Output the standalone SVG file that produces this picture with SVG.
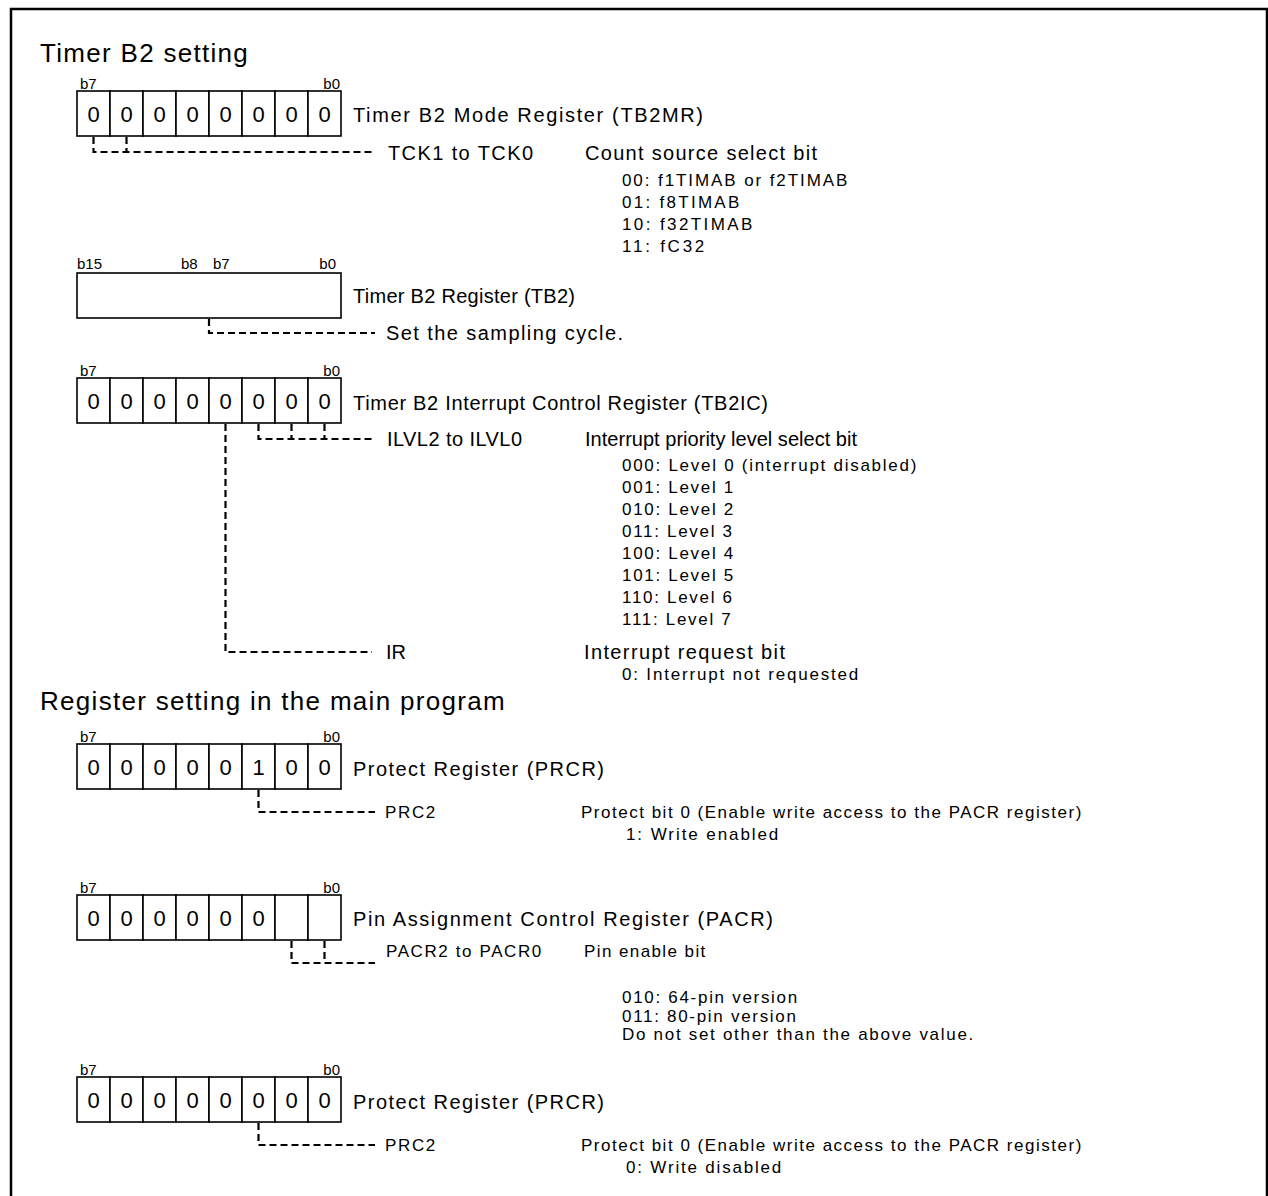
<svg xmlns="http://www.w3.org/2000/svg" width="1268" height="1196" viewBox="0 0 1268 1196">
<style>
text{font-family:"Liberation Sans",Arial,sans-serif;fill:#000}
.t{font-size:26px;letter-spacing:1.3px}
.m{font-size:20px}
.s{font-size:17px;letter-spacing:1.7px}
.b{font-size:15px}
.d{font-size:22px;text-anchor:middle}
.c{fill:#fff;stroke:#000;stroke-width:1.6}
.dash{fill:none;stroke:#000;stroke-width:2.2;stroke-dasharray:7 4}
</style>
<defs>
<g id="cells8">
<rect class="c" x="0" y="0" width="33" height="45"/>
<rect class="c" x="33" y="0" width="33" height="45"/>
<rect class="c" x="66" y="0" width="33" height="45"/>
<rect class="c" x="99" y="0" width="33" height="45"/>
<rect class="c" x="132" y="0" width="33" height="45"/>
<rect class="c" x="165" y="0" width="33" height="45"/>
<rect class="c" x="198" y="0" width="33" height="45"/>
<rect class="c" x="231" y="0" width="33" height="45"/>
</g>
</defs>
<rect x="0" y="0" width="1268" height="1196" fill="#fff"/>
<path d="M11,1200 V9 H1267 V1200" fill="none" stroke="#000" stroke-width="2.5"/>

<text class="t" x="40" y="62">Timer B2 setting</text>

<g id="reg-tb2mr">
<text class="b" x="80" y="89">b7</text>
<text class="b" x="340" y="89" text-anchor="end">b0</text>
<use href="#cells8" x="77" y="91"/>
<text class="d" x="93.5" y="122">0</text><text class="d" x="126.5" y="122">0</text><text class="d" x="159.5" y="122">0</text><text class="d" x="192.5" y="122">0</text><text class="d" x="225.5" y="122">0</text><text class="d" x="258.5" y="122">0</text><text class="d" x="291.5" y="122">0</text><text class="d" x="324.5" y="122">0</text>
<text class="m" x="353" y="122" textLength="350" lengthAdjust="spacing">Timer B2 Mode Register (TB2MR)</text>
</g>
<g id="desc-tck">
<text class="m" x="388" y="160" textLength="145" lengthAdjust="spacing">TCK1 to TCK0</text>
<text class="m" x="585" y="160" textLength="232" lengthAdjust="spacing">Count source select bit</text>
<text class="s" x="622" y="186" textLength="227" lengthAdjust="spacing">00: f1TIMAB or f2TIMAB</text>
<text class="s" x="622" y="208" textLength="119" lengthAdjust="spacing">01: f8TIMAB</text>
<text class="s" x="622" y="230" textLength="132" lengthAdjust="spacing">10: f32TIMAB</text>
<text class="s" x="622" y="252" textLength="84" lengthAdjust="spacing">11: fC32</text>
</g>

<g id="reg-tb2">
<text class="b" x="77" y="269">b15</text>
<text class="b" x="181" y="269">b8</text>
<text class="b" x="213" y="269">b7</text>
<text class="b" x="336" y="269" text-anchor="end">b0</text>
<rect class="c" x="77" y="273" width="264" height="45"/>
<text class="m" x="353" y="303" textLength="222" lengthAdjust="spacing">Timer B2 Register (TB2)</text>
</g>
<g id="desc-tb2">
<text class="m" x="386" y="340" textLength="237" lengthAdjust="spacing">Set the sampling cycle.</text>
</g>

<g id="reg-tb2ic">
<text class="b" x="80" y="376">b7</text>
<text class="b" x="340" y="376" text-anchor="end">b0</text>
<use href="#cells8" x="77" y="378"/>
<text class="d" x="93.5" y="409">0</text><text class="d" x="126.5" y="409">0</text><text class="d" x="159.5" y="409">0</text><text class="d" x="192.5" y="409">0</text><text class="d" x="225.5" y="409">0</text><text class="d" x="258.5" y="409">0</text><text class="d" x="291.5" y="409">0</text><text class="d" x="324.5" y="409">0</text>
<text class="m" x="353" y="410" textLength="415" lengthAdjust="spacing">Timer B2 Interrupt Control Register (TB2IC)</text>
</g>
<g id="desc-ilvl">
<text class="m" x="387" y="446" textLength="135" lengthAdjust="spacing">ILVL2 to ILVL0</text>
<text class="m" x="585" y="446" textLength="272" lengthAdjust="spacing">Interrupt priority level select bit</text>
<text class="s" x="622" y="471" textLength="296" lengthAdjust="spacing">000: Level 0 (interrupt disabled)</text>
<text class="s" x="622" y="493">001: Level 1</text>
<text class="s" x="622" y="515">010: Level 2</text>
<text class="s" x="622" y="537">011: Level 3</text>
<text class="s" x="622" y="559">100: Level 4</text>
<text class="s" x="622" y="581">101: Level 5</text>
<text class="s" x="622" y="603">110: Level 6</text>
<text class="s" x="622" y="625">111: Level 7</text>
</g>
<g id="desc-ir">
<text class="m" x="386" y="659">IR</text>
<text class="m" x="584" y="659" textLength="201" lengthAdjust="spacing">Interrupt request bit</text>
<text class="s" x="622" y="680" textLength="238" lengthAdjust="spacing">0: Interrupt not requested</text>
</g>

<text class="t" x="40" y="710">Register setting in the main program</text>

<g id="reg-prcr1">
<text class="b" x="80" y="742">b7</text>
<text class="b" x="340" y="742" text-anchor="end">b0</text>
<use href="#cells8" x="77" y="744"/>
<text class="d" x="93.5" y="775">0</text><text class="d" x="126.5" y="775">0</text><text class="d" x="159.5" y="775">0</text><text class="d" x="192.5" y="775">0</text><text class="d" x="225.5" y="775">0</text><text class="d" x="258.5" y="775">1</text><text class="d" x="291.5" y="775">0</text><text class="d" x="324.5" y="775">0</text>
<text class="m" x="353" y="776" textLength="251" lengthAdjust="spacing">Protect Register (PRCR)</text>
</g>
<g id="desc-prc2-1">
<text class="s" x="385" y="818" textLength="52" lengthAdjust="spacing">PRC2</text>
<text class="s" x="581" y="818" textLength="502" lengthAdjust="spacing">Protect bit 0 (Enable write access to the PACR register)</text>
<text class="s" x="626" y="840" textLength="154" lengthAdjust="spacing">1: Write enabled</text>
</g>

<g id="reg-pacr">
<text class="b" x="80" y="893">b7</text>
<text class="b" x="340" y="893" text-anchor="end">b0</text>
<use href="#cells8" x="77" y="895"/>
<text class="d" x="93.5" y="926">0</text><text class="d" x="126.5" y="926">0</text><text class="d" x="159.5" y="926">0</text><text class="d" x="192.5" y="926">0</text><text class="d" x="225.5" y="926">0</text><text class="d" x="258.5" y="926">0</text>
<text class="m" x="353" y="926" textLength="420" lengthAdjust="spacing">Pin Assignment Control Register (PACR)</text>
</g>
<g id="desc-pacr">
<text class="s" x="386" y="957" textLength="157" lengthAdjust="spacing">PACR2 to PACR0</text>
<text class="s" x="584" y="957" textLength="123" lengthAdjust="spacing">Pin enable bit</text>
<text class="s" x="622" y="1003">010: 64-pin version</text>
<text class="s" x="622" y="1022">011: 80-pin version</text>
<text class="s" x="622" y="1040" textLength="353" lengthAdjust="spacing">Do not set other than the above value.</text>
</g>

<g id="reg-prcr2">
<text class="b" x="80" y="1075">b7</text>
<text class="b" x="340" y="1075" text-anchor="end">b0</text>
<use href="#cells8" x="77" y="1077"/>
<text class="d" x="93.5" y="1108">0</text><text class="d" x="126.5" y="1108">0</text><text class="d" x="159.5" y="1108">0</text><text class="d" x="192.5" y="1108">0</text><text class="d" x="225.5" y="1108">0</text><text class="d" x="258.5" y="1108">0</text><text class="d" x="291.5" y="1108">0</text><text class="d" x="324.5" y="1108">0</text>
<text class="m" x="353" y="1109" textLength="251" lengthAdjust="spacing">Protect Register (PRCR)</text>
</g>
<g id="desc-prc2-2">
<text class="s" x="385" y="1151" textLength="52" lengthAdjust="spacing">PRC2</text>
<text class="s" x="581" y="1151" textLength="502" lengthAdjust="spacing">Protect bit 0 (Enable write access to the PACR register)</text>
<text class="s" x="626" y="1173" textLength="157" lengthAdjust="spacing">0: Write disabled</text>
</g>

<g id="connectors">
<path class="dash" d="M93.5,137 V152 H375 M126.5,137 V152"/>
<path class="dash" d="M209,319 V333 H375"/>
<path class="dash" d="M258.5,424 V439 H373 M291.5,424 V439 M324.5,424 V439"/>
<path class="dash" d="M225.5,424 V652 H372"/>
<path class="dash" d="M258.5,790 V812 H375"/>
<path class="dash" d="M291.5,941 V963 H375 M324.5,941 V963"/>
<path class="dash" d="M258.5,1123 V1145 H375"/>
</g>
</svg>
